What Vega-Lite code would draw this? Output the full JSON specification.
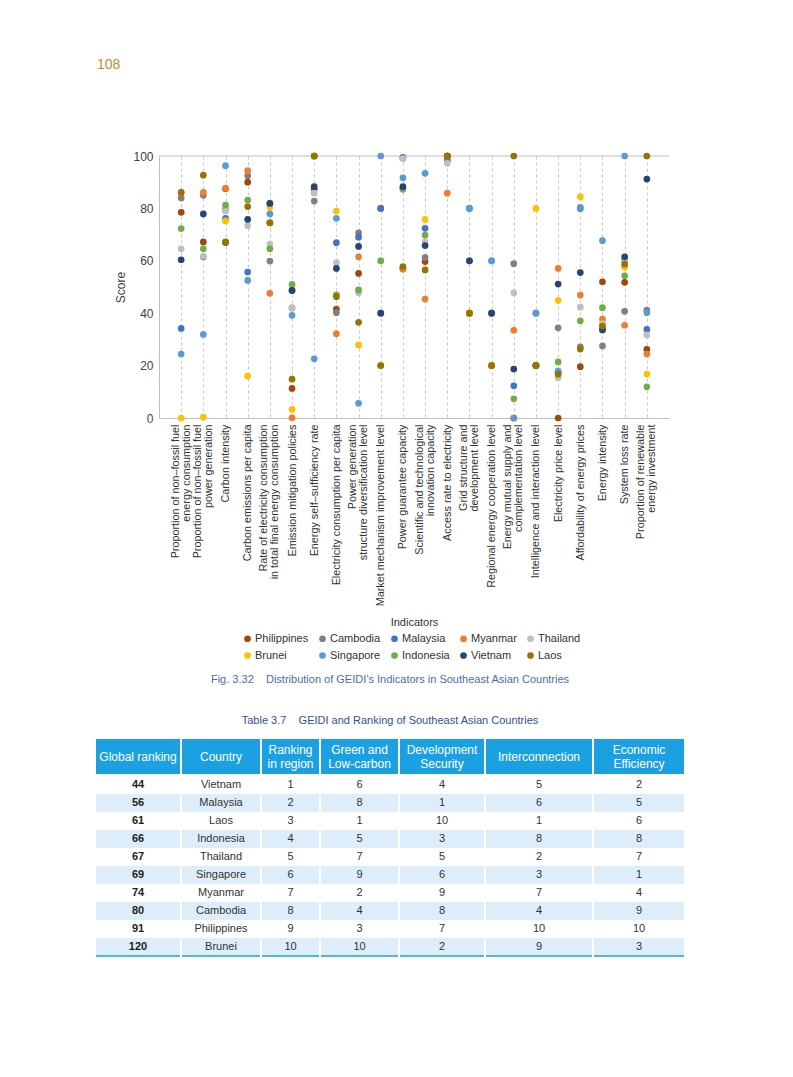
{
  "$schema": "https://vega.github.io/schema/vega-lite/v6.json",
  "padding": {"left": 95, "top": 58, "right": 5, "bottom": 5},
  "config": {"view": {"stroke": null}, "font": "Liberation Sans"},
  "datasets": {
    "scores": [
      {"indicator": "Proportion of non–fossil fuel\nenergy consumption", "Philippines": 78.5, "Cambodia": 84, "Malaysia": 34.2, "Myanmar": 86, "Thailand": 64.6, "Brunei": 0, "Singapore": 24.4, "Indonesia": 72.3, "Vietnam": 60.4, "Laos": 86.1},
      {"indicator": "Proportion of non–fossil fuel\npower generation", "Philippines": 67.2, "Cambodia": 85, "Malaysia": 61.5, "Myanmar": 86.1, "Thailand": 61.8, "Brunei": 0.3, "Singapore": 31.9, "Indonesia": 64.6, "Vietnam": 77.9, "Laos": 92.7},
      {"indicator": "Carbon intensity", "Philippines": 87.5, "Cambodia": 79.5, "Malaysia": 76.2, "Myanmar": 87.7, "Thailand": 79, "Brunei": 75.2, "Singapore": 96.3, "Indonesia": 81.3, "Vietnam": 67, "Laos": 67.2},
      {"indicator": "Carbon emissions per capita", "Philippines": 90, "Cambodia": 92.5, "Malaysia": 55.7, "Myanmar": 94.4, "Thailand": 73.4, "Brunei": 16, "Singapore": 52.5, "Indonesia": 83.2, "Vietnam": 75.8, "Laos": 80.7},
      {"indicator": "Rate of electricity consumption\nin total final energy consumption", "Philippines": 74.5, "Cambodia": 59.9, "Malaysia": 81.8, "Myanmar": 47.6, "Thailand": 66.4, "Brunei": 80.4, "Singapore": 77.9, "Indonesia": 64.6, "Vietnam": 81.9, "Laos": 74.5},
      {"indicator": "Emission mitigation policies", "Philippines": 11.3, "Cambodia": 42, "Malaysia": 48.7, "Myanmar": 0.1, "Thailand": 41.9, "Brunei": 3.3, "Singapore": 39.2, "Indonesia": 51, "Vietnam": 48.7, "Laos": 14.8},
      {"indicator": "Energy self–sufficiency rate", "Philippines": 87.3, "Cambodia": 82.8, "Malaysia": 100, "Myanmar": 100, "Thailand": 85.8, "Brunei": 100, "Singapore": 22.6, "Indonesia": 100, "Vietnam": 88.3, "Laos": 100},
      {"indicator": "Electricity consumption per capita", "Philippines": 41.6, "Cambodia": 40.2, "Malaysia": 66.9, "Myanmar": 32.2, "Thailand": 59.3, "Brunei": 79, "Singapore": 76.2, "Indonesia": 47, "Vietnam": 57.1, "Laos": 46.3},
      {"indicator": "Power generation\nstructure diversification level", "Philippines": 55.2, "Cambodia": 70.7, "Malaysia": 69, "Myanmar": 61.5, "Thailand": 47.8, "Brunei": 27.9, "Singapore": 5.6, "Indonesia": 48.9, "Vietnam": 65.5, "Laos": 36.5},
      {"indicator": "Market mechanism improvement level", "Philippines": 80, "Cambodia": 40, "Malaysia": 80, "Myanmar": 20, "Thailand": 60, "Brunei": 20, "Singapore": 100, "Indonesia": 60, "Vietnam": 40, "Laos": 20},
      {"indicator": "Power guarantee capacity", "Philippines": 57, "Cambodia": 99, "Malaysia": 99.5, "Myanmar": 56.8, "Thailand": 99, "Brunei": 88, "Singapore": 91.7, "Indonesia": 87.3, "Vietnam": 88.3, "Laos": 57.8},
      {"indicator": "Scientific and technological\ninnovation capacity", "Philippines": 59.7, "Cambodia": 61.3, "Malaysia": 72.4, "Myanmar": 45.4, "Thailand": 67.3, "Brunei": 75.8, "Singapore": 93.4, "Indonesia": 69.8, "Vietnam": 65.8, "Laos": 56.5},
      {"indicator": "Access rate to electricity", "Philippines": 98.5, "Cambodia": 98.5, "Malaysia": 100, "Myanmar": 85.8, "Thailand": 97.2, "Brunei": 100, "Singapore": 100, "Indonesia": 100, "Vietnam": 100, "Laos": 100},
      {"indicator": "Grid structure and\ndevelopment level", "Philippines": 40, "Cambodia": 40, "Malaysia": 80, "Myanmar": 40, "Thailand": 60, "Brunei": 40, "Singapore": 80, "Indonesia": 60, "Vietnam": 60, "Laos": 40},
      {"indicator": "Regional energy cooperation level", "Philippines": 20, "Cambodia": 40, "Malaysia": 60, "Myanmar": 20, "Thailand": 60, "Brunei": 20, "Singapore": 60, "Indonesia": 40, "Vietnam": 40, "Laos": 20},
      {"indicator": "Energy mutual supply and\ncomplementation level", "Philippines": 0, "Cambodia": 58.9, "Malaysia": 12.3, "Myanmar": 33.5, "Thailand": 47.8, "Brunei": 0, "Singapore": 0, "Indonesia": 7.3, "Vietnam": 18.7, "Laos": 100},
      {"indicator": "Intelligence and interaction level", "Philippines": 20, "Cambodia": 20, "Malaysia": 40, "Myanmar": 20, "Thailand": 40, "Brunei": 80, "Singapore": 40, "Indonesia": 20, "Vietnam": 20, "Laos": 20},
      {"indicator": "Electricity price level", "Philippines": 0, "Cambodia": 34.4, "Malaysia": 17.5, "Myanmar": 57.1, "Thailand": 15.4, "Brunei": 44.8, "Singapore": 17.9, "Indonesia": 21.4, "Vietnam": 51.1, "Laos": 16.7},
      {"indicator": "Affordability of energy prices", "Philippines": 19.6, "Cambodia": 27.2, "Malaysia": 80, "Myanmar": 46.9, "Thailand": 42.3, "Brunei": 84.4, "Singapore": 80.4, "Indonesia": 37.1, "Vietnam": 55.5, "Laos": 26.3},
      {"indicator": "Energy intensity", "Philippines": 52, "Cambodia": 27.5, "Malaysia": 34, "Myanmar": 37.7, "Thailand": 36, "Brunei": 35.5, "Singapore": 67.7, "Indonesia": 42.1, "Vietnam": 33.6, "Laos": 35.1},
      {"indicator": "System loss rate", "Philippines": 51.8, "Cambodia": 40.7, "Malaysia": 60.3, "Myanmar": 35.4, "Thailand": 60, "Brunei": 57.5, "Singapore": 100, "Indonesia": 54.3, "Vietnam": 61.5, "Laos": 58.7},
      {"indicator": "Proportion of renewable\nenergy investment", "Philippines": 26.2, "Cambodia": 41.2, "Malaysia": 33.8, "Myanmar": 24.4, "Thailand": 31.7, "Brunei": 16.8, "Singapore": 40.2, "Indonesia": 11.9, "Vietnam": 91.2, "Laos": 100}
    ],
    "table": [
      {"global": 44, "country": "Vietnam", "region": 1, "green": 6, "security": 4, "interconnection": 5, "efficiency": 2},
      {"global": 56, "country": "Malaysia", "region": 2, "green": 8, "security": 1, "interconnection": 6, "efficiency": 5},
      {"global": 61, "country": "Laos", "region": 3, "green": 1, "security": 10, "interconnection": 1, "efficiency": 6},
      {"global": 66, "country": "Indonesia", "region": 4, "green": 5, "security": 3, "interconnection": 8, "efficiency": 8},
      {"global": 67, "country": "Thailand", "region": 5, "green": 7, "security": 5, "interconnection": 2, "efficiency": 7},
      {"global": 69, "country": "Singapore", "region": 6, "green": 9, "security": 6, "interconnection": 3, "efficiency": 1},
      {"global": 74, "country": "Myanmar", "region": 7, "green": 2, "security": 9, "interconnection": 7, "efficiency": 4},
      {"global": 80, "country": "Cambodia", "region": 8, "green": 4, "security": 8, "interconnection": 4, "efficiency": 9},
      {"global": 91, "country": "Philippines", "region": 9, "green": 3, "security": 7, "interconnection": 10, "efficiency": 10},
      {"global": 120, "country": "Brunei", "region": 10, "green": 10, "security": 2, "interconnection": 9, "efficiency": 3}
    ]
  },
  "spacing": 46,
  "align": "none",
  "vconcat": [
    {
      "spacing": 0,
      "hconcat": [
        {"width": 1, "height": 1, "view": {"fill": "white", "stroke": null}, "data": {"values": []}, "mark": "point"},
        {
          "width": 510,
          "height": 262,
          "title": {"text": "108", "anchor": "start", "frame": "group", "dx": -62, "fontSize": 14, "color": "#b8902e", "fontWeight": "normal", "offset": 78},
          "layer": [
            {
              "data": {"values": [{"v": 100}]},
              "mark": {"type": "rule", "color": "#bfbfbf", "strokeWidth": 1},
              "encoding": {"y": {"field": "v", "type": "quantitative"}}
            },
            {
              "data": {"name": "scores"},
              "transform": [{"fold": ["Philippines", "Cambodia", "Malaysia", "Myanmar", "Thailand", "Brunei", "Singapore", "Indonesia", "Vietnam", "Laos"], "as": ["country", "score"]}],
              "mark": {"type": "circle", "size": 45, "opacity": 1},
              "encoding": {
                "x": {
                  "field": "indicator", "type": "nominal", "sort": null,
                  "scale": {"type": "point", "padding": 1},
                  "axis": {
                    "title": "Indicators", "titleFontSize": 11, "titleFontWeight": "normal", "titleColor": "#333", "titlePadding": 11,
                    "labelAngle": -90, "labelFontSize": 10.8, "labelLineHeight": 11, "labelColor": "#333",
                    "labelExpr": "split(datum.label, '\\n')", "labelPadding": 6, "labelLimit": 400, "labelOverlap": false,
                    "labelOffset": {"condition": {"test": "indexof(datum.label, '\\n') >= 0", "value": -6}, "value": 0},
                    "ticks": false, "grid": true, "gridDash": [3, 3], "gridColor": "#c8c8c8", "domainColor": "#bfbfbf"
                  }
                },
                "y": {
                  "field": "score", "type": "quantitative",
                  "scale": {"domain": [0, 100]},
                  "axis": {
                    "title": "Score", "titleFontSize": 12, "titleFontWeight": "normal", "titleColor": "#404040", "titlePadding": 5,
                    "values": [0, 20, 40, 60, 80, 100], "grid": false, "ticks": false,
                    "labelFontSize": 12, "labelColor": "#404040", "labelPadding": 6, "domainColor": "#bfbfbf"
                  }
                },
                "color": {
                  "field": "country", "type": "nominal",
                  "scale": {
                    "domain": ["Philippines", "Cambodia", "Malaysia", "Myanmar", "Thailand", "Brunei", "Singapore", "Indonesia", "Vietnam", "Laos"],
                    "range": ["#9e480e", "#808080", "#4472c4", "#ed7d31", "#bfbfbf", "#ffc000", "#5b9bd5", "#70ad47", "#264478", "#997300"]
                  },
                  "legend": {
                    "orient": "none", "legendX": 146, "legendY": 477, "direction": "horizontal", "columns": 5, "title": null,
                    "symbolType": "circle", "symbolSize": 45, "labelFontSize": 11, "labelColor": "#333",
                    "columnPadding": 8, "rowPadding": 5, "labelOffset": 2
                  }
                }
              }
            }
          ]
        }
      ]
    },
    {
      "title": {"text": "Fig. 3.32\u00a0\u00a0\u00a0 Distribution of GEIDI’s Indicators in Southeast Asian Countries", "anchor": "middle", "fontSize": 11, "color": "#4a6cb0", "fontWeight": "normal", "offset": 30},
      "vconcat": [
        {
          "title": {"text": "Table 3.7\u00a0\u00a0\u00a0 GEIDI and Ranking of Southeast Asian Countries", "fontSize": 11, "color": "#34508f", "fontWeight": "normal", "offset": 13, "anchor": "middle"},
          "spacing": 0,
          "hconcat": [
            {"spacing": 2, "vconcat": [
              {"width": 84, "height": 35, "view": {"fill": "#1ba1e2", "stroke": null}, "data": {"values": [{"h": "Global ranking"}]}, "mark": {"type": "text", "color": "white", "fontSize": 12}, "encoding": {"text": {"field": "h"}}},
              {"width": 84, "height": 180, "data": {"name": "table"}, "layer": [
                {"mark": "rect", "encoding": {"y": {"field": "region", "type": "ordinal", "axis": null, "scale": {"paddingInner": 0, "paddingOuter": 0}}, "fill": {"condition": {"test": "datum.region % 2 == 0", "value": "#ddeefa"}, "value": "white"}}},
                {"transform": [{"filter": "datum.region == 10"}], "mark": {"type": "rule", "color": "#1ba1e2", "strokeWidth": 1.5}, "encoding": {"y": {"field": "region", "type": "ordinal", "bandPosition": 1, "axis": null}}},
                {"mark": {"type": "text", "fontSize": 11, "color": "#222", "fontWeight": "bold"}, "encoding": {"y": {"field": "region", "type": "ordinal", "axis": null}, "text": {"field": "global"}}}
              ]}
            ]},
            {"spacing": 2, "vconcat": [
              {"width": 78, "height": 35, "view": {"fill": "#1ba1e2", "stroke": null}, "data": {"values": [{"h": "Country"}]}, "mark": {"type": "text", "color": "white", "fontSize": 12}, "encoding": {"text": {"field": "h"}}},
              {"width": 78, "height": 180, "data": {"name": "table"}, "layer": [
                {"mark": "rect", "encoding": {"y": {"field": "region", "type": "ordinal", "axis": null, "scale": {"paddingInner": 0, "paddingOuter": 0}}, "fill": {"condition": {"test": "datum.region % 2 == 0", "value": "#ddeefa"}, "value": "white"}}},
                {"transform": [{"filter": "datum.region == 10"}], "mark": {"type": "rule", "color": "#1ba1e2", "strokeWidth": 1.5}, "encoding": {"y": {"field": "region", "type": "ordinal", "bandPosition": 1, "axis": null}}},
                {"mark": {"type": "text", "fontSize": 11, "color": "#333"}, "encoding": {"y": {"field": "region", "type": "ordinal", "axis": null}, "text": {"field": "country"}}}
              ]}
            ]},
            {"spacing": 2, "vconcat": [
              {"width": 57, "height": 35, "view": {"fill": "#1ba1e2", "stroke": null}, "data": {"values": [{"h": "Ranking\nin region"}]}, "mark": {"type": "text", "color": "white", "fontSize": 12, "lineBreak": "\n", "lineHeight": 14, "dy": -7}, "encoding": {"text": {"field": "h"}}},
              {"width": 57, "height": 180, "data": {"name": "table"}, "layer": [
                {"mark": "rect", "encoding": {"y": {"field": "region", "type": "ordinal", "axis": null, "scale": {"paddingInner": 0, "paddingOuter": 0}}, "fill": {"condition": {"test": "datum.region % 2 == 0", "value": "#ddeefa"}, "value": "white"}}},
                {"transform": [{"filter": "datum.region == 10"}], "mark": {"type": "rule", "color": "#1ba1e2", "strokeWidth": 1.5}, "encoding": {"y": {"field": "region", "type": "ordinal", "bandPosition": 1, "axis": null}}},
                {"mark": {"type": "text", "fontSize": 11, "color": "#333"}, "encoding": {"y": {"field": "region", "type": "ordinal", "axis": null}, "text": {"field": "region"}}}
              ]}
            ]},
            {"spacing": 2, "vconcat": [
              {"width": 77, "height": 35, "view": {"fill": "#1ba1e2", "stroke": null}, "data": {"values": [{"h": "Green and\nLow-carbon"}]}, "mark": {"type": "text", "color": "white", "fontSize": 12, "lineBreak": "\n", "lineHeight": 14, "dy": -7}, "encoding": {"text": {"field": "h"}}},
              {"width": 77, "height": 180, "data": {"name": "table"}, "layer": [
                {"mark": "rect", "encoding": {"y": {"field": "region", "type": "ordinal", "axis": null, "scale": {"paddingInner": 0, "paddingOuter": 0}}, "fill": {"condition": {"test": "datum.region % 2 == 0", "value": "#ddeefa"}, "value": "white"}}},
                {"transform": [{"filter": "datum.region == 10"}], "mark": {"type": "rule", "color": "#1ba1e2", "strokeWidth": 1.5}, "encoding": {"y": {"field": "region", "type": "ordinal", "bandPosition": 1, "axis": null}}},
                {"mark": {"type": "text", "fontSize": 11, "color": "#333"}, "encoding": {"y": {"field": "region", "type": "ordinal", "axis": null}, "text": {"field": "green"}}}
              ]}
            ]},
            {"spacing": 2, "vconcat": [
              {"width": 84, "height": 35, "view": {"fill": "#1ba1e2", "stroke": null}, "data": {"values": [{"h": "Development\nSecurity"}]}, "mark": {"type": "text", "color": "white", "fontSize": 12, "lineBreak": "\n", "lineHeight": 14, "dy": -7}, "encoding": {"text": {"field": "h"}}},
              {"width": 84, "height": 180, "data": {"name": "table"}, "layer": [
                {"mark": "rect", "encoding": {"y": {"field": "region", "type": "ordinal", "axis": null, "scale": {"paddingInner": 0, "paddingOuter": 0}}, "fill": {"condition": {"test": "datum.region % 2 == 0", "value": "#ddeefa"}, "value": "white"}}},
                {"transform": [{"filter": "datum.region == 10"}], "mark": {"type": "rule", "color": "#1ba1e2", "strokeWidth": 1.5}, "encoding": {"y": {"field": "region", "type": "ordinal", "bandPosition": 1, "axis": null}}},
                {"mark": {"type": "text", "fontSize": 11, "color": "#333"}, "encoding": {"y": {"field": "region", "type": "ordinal", "axis": null}, "text": {"field": "security"}}}
              ]}
            ]},
            {"spacing": 2, "vconcat": [
              {"width": 106, "height": 35, "view": {"fill": "#1ba1e2", "stroke": null}, "data": {"values": [{"h": "Interconnection"}]}, "mark": {"type": "text", "color": "white", "fontSize": 12}, "encoding": {"text": {"field": "h"}}},
              {"width": 106, "height": 180, "data": {"name": "table"}, "layer": [
                {"mark": "rect", "encoding": {"y": {"field": "region", "type": "ordinal", "axis": null, "scale": {"paddingInner": 0, "paddingOuter": 0}}, "fill": {"condition": {"test": "datum.region % 2 == 0", "value": "#ddeefa"}, "value": "white"}}},
                {"transform": [{"filter": "datum.region == 10"}], "mark": {"type": "rule", "color": "#1ba1e2", "strokeWidth": 1.5}, "encoding": {"y": {"field": "region", "type": "ordinal", "bandPosition": 1, "axis": null}}},
                {"mark": {"type": "text", "fontSize": 11, "color": "#333"}, "encoding": {"y": {"field": "region", "type": "ordinal", "axis": null}, "text": {"field": "interconnection"}}}
              ]}
            ]},
            {"spacing": 2, "vconcat": [
              {"width": 90, "height": 35, "view": {"fill": "#1ba1e2", "stroke": null}, "data": {"values": [{"h": "Economic\nEfficiency"}]}, "mark": {"type": "text", "color": "white", "fontSize": 12, "lineBreak": "\n", "lineHeight": 14, "dy": -7}, "encoding": {"text": {"field": "h"}}},
              {"width": 90, "height": 180, "data": {"name": "table"}, "layer": [
                {"mark": "rect", "encoding": {"y": {"field": "region", "type": "ordinal", "axis": null, "scale": {"paddingInner": 0, "paddingOuter": 0}}, "fill": {"condition": {"test": "datum.region % 2 == 0", "value": "#ddeefa"}, "value": "white"}}},
                {"transform": [{"filter": "datum.region == 10"}], "mark": {"type": "rule", "color": "#1ba1e2", "strokeWidth": 1.5}, "encoding": {"y": {"field": "region", "type": "ordinal", "bandPosition": 1, "axis": null}}},
                {"mark": {"type": "text", "fontSize": 11, "color": "#333"}, "encoding": {"y": {"field": "region", "type": "ordinal", "axis": null}, "text": {"field": "efficiency"}}}
              ]}
            ]}
          ]
        }
      ]
    }
  ]
}
